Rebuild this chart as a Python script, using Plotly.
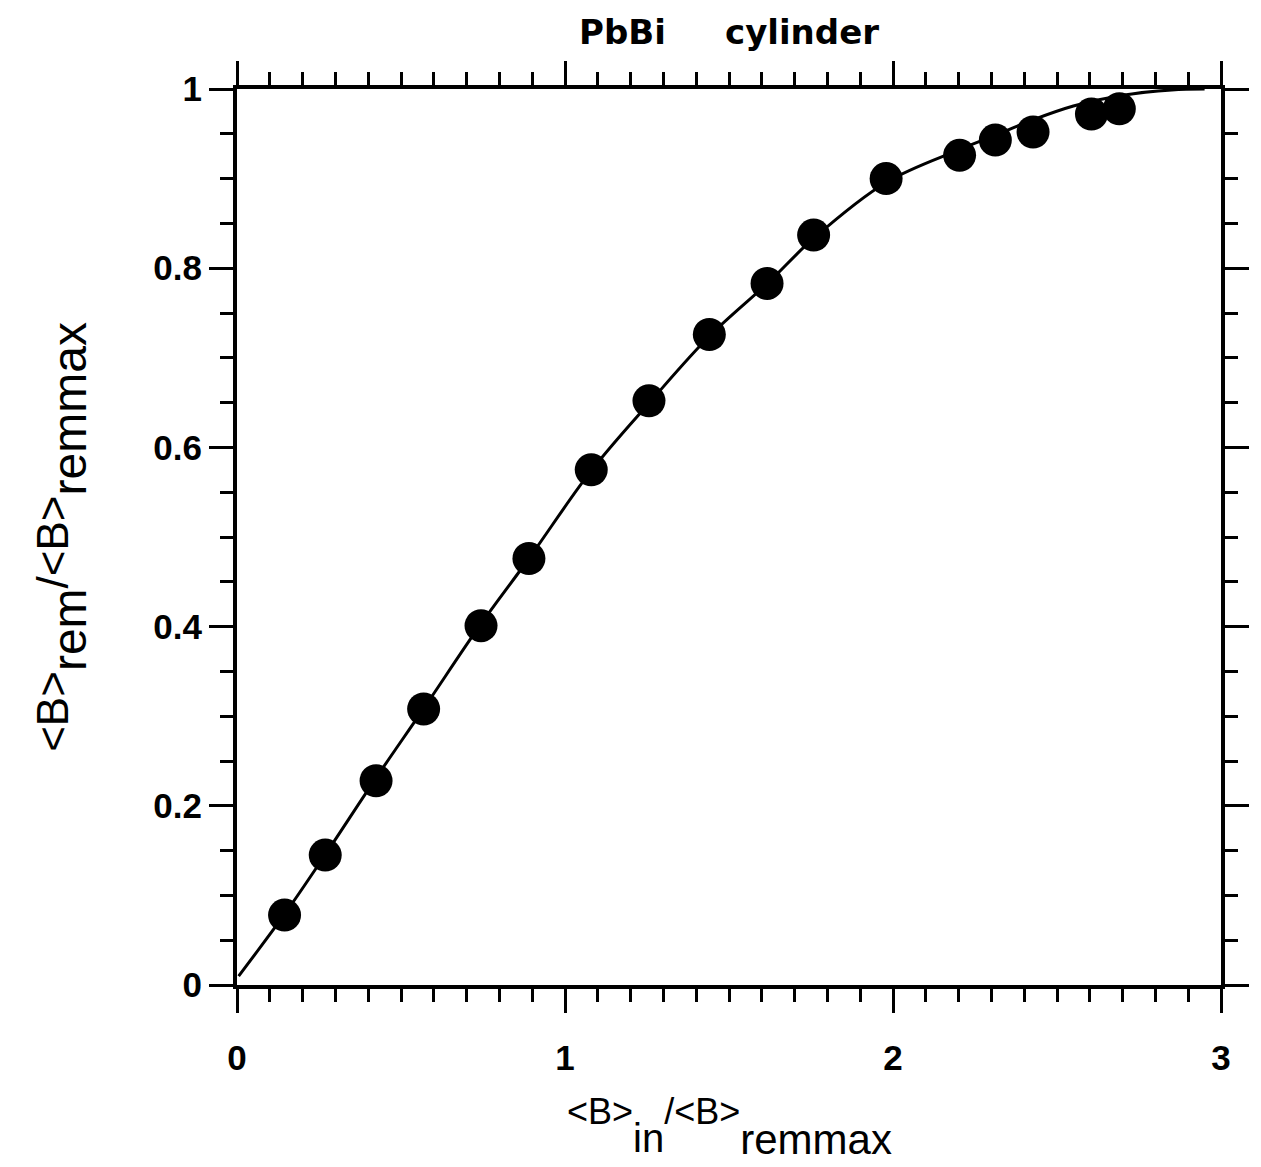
import plotly.graph_objects as go

# measured data points
pts_x = [0.145, 0.269, 0.424, 0.569, 0.744, 0.890, 1.080, 1.256, 1.440, 1.616,
         1.758, 1.979, 2.203, 2.312, 2.427, 2.605, 2.690]
pts_y = [0.078, 0.145, 0.228, 0.308, 0.401, 0.476, 0.575, 0.652, 0.726, 0.783,
         0.837, 0.900, 0.926, 0.943, 0.952, 0.972, 0.978]

# fitted curve
curve_x = [0.005, 0.145, 0.27, 0.42, 0.57, 0.74, 0.89, 1.08, 1.26, 1.44, 1.62,
           1.76, 1.98, 2.2, 2.31, 2.43, 2.55, 2.7, 2.85, 2.95]
curve_y = [0.01, 0.079, 0.146, 0.229, 0.309, 0.401, 0.476, 0.574, 0.651, 0.724,
           0.784, 0.834, 0.896, 0.932, 0.948, 0.966, 0.981, 0.993, 0.999, 1.0]

x_tickvals = [0, 1, 2, 3]
x_ticktext = ["0", "1", "2", "3"]
y_tickvals = [0, 0.2, 0.4, 0.6, 0.8, 1]
y_ticktext = ["0", "0.2", "0.4", "0.6", "0.8", "1"]

title_text = "PbBi\u00a0\u00a0\u00a0\u00a0\u00a0cylinder"
x_title = ("&lt;B&gt;<span style=\"font-size:40px;baseline-shift:-28px\">in</span>/"
           "&lt;B&gt;<span style=\"font-size:42px;baseline-shift:-30px\">remmax</span>")
y_title = ("&lt;B&gt;<span style=\"font-size:48px;baseline-shift:-18px\">rem</span>/"
           "&lt;B&gt;<span style=\"font-size:48px;baseline-shift:-18px\">remmax</span>")

fig = go.Figure()
fig.add_trace(go.Scatter(x=curve_x, y=curve_y, mode="lines",
                         line=dict(color="black", width=3, shape="spline"),
                         showlegend=False, hoverinfo="skip"))
fig.add_trace(go.Scatter(x=pts_x, y=pts_y, mode="markers",
                         marker=dict(color="black", size=33, line=dict(width=0)),
                         showlegend=False))

axis_common = dict(showline=True, linecolor="black", linewidth=4, mirror="allticks",
                   ticks="outside", tickcolor="black", tickwidth=3, ticklen=24,
                   showgrid=False, zeroline=False,
                   tickfont=dict(family="Liberation Sans", size=35, color="black", weight="bold"))

fig.update_xaxes(range=[0, 3], tickvals=x_tickvals, ticktext=x_ticktext,
                 ticklabelstandoff=15,
                 minor=dict(dtick=0.1, ticks="outside", ticklen=13, tickwidth=3,
                            tickcolor="black", showgrid=False),
                 **axis_common)
fig.update_yaxes(range=[0, 1], tickvals=y_tickvals, ticktext=y_ticktext,
                 ticklabelstandoff=0,
                 minor=dict(dtick=0.05, ticks="outside", ticklen=13, tickwidth=3,
                            tickcolor="black", showgrid=False),
                 **axis_common)

fig.add_annotation(text=x_title, xref="paper", yref="paper", x=0.5, y=-0.158,
                   xanchor="center", yanchor="middle", showarrow=False,
                   font=dict(family="Liberation Sans", size=36, color="black"))
fig.add_annotation(text=y_title, xref="paper", yref="paper", x=-0.178, y=0.5,
                   xanchor="center", yanchor="middle", showarrow=False, textangle=-90,
                   font=dict(family="Liberation Sans", size=44, color="black"))

fig.update_layout(
    width=1261, height=1167,
    margin=dict(l=237, r=34, t=89, b=182),
    paper_bgcolor="white", plot_bgcolor="white",
    title=dict(text=title_text, xref="paper", x=0.5, xanchor="center",
               yref="container", y=1 - 32 / 1167, yanchor="middle",
               font=dict(family="DejaVu Sans", size=34, color="black", weight="bold")),
)

fig.write_html("out.html")
